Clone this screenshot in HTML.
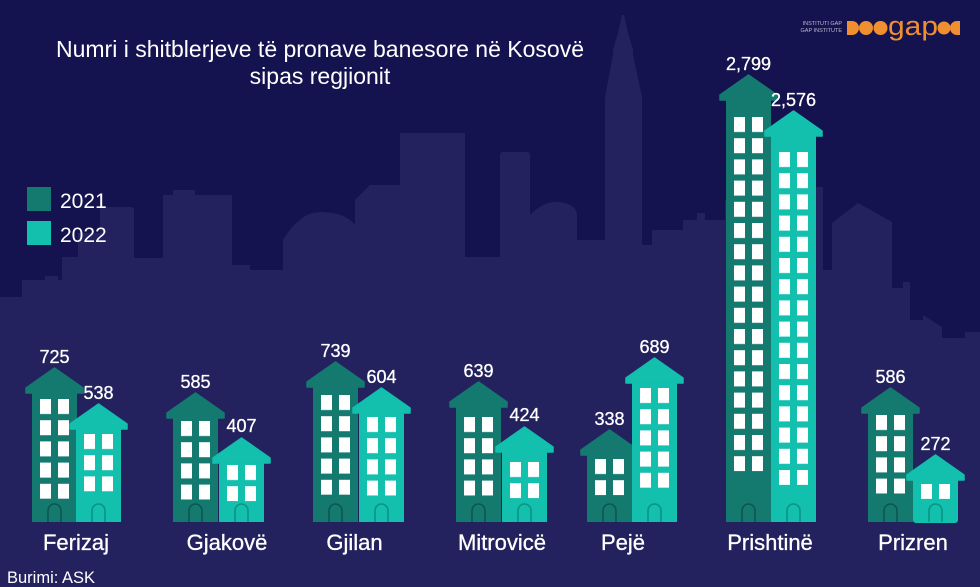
<!DOCTYPE html>
<html>
<head>
<meta charset="utf-8">
<style>
  html,body{margin:0;padding:0;background:#15134f;}
  svg{display:block;}
  text{font-family:"Liberation Sans","DejaVu Sans",sans-serif;fill:#fff;}
  .val{font-size:18px;text-anchor:middle;stroke:#fff;stroke-width:0.3;}
  .lab{font-size:22px;text-anchor:middle;stroke:#fff;stroke-width:0.3;}
  .b1{fill:#147a70;}
  .b2{fill:#13bfad;}
  .d1{fill:none;stroke:#0c564f;stroke-width:1.6;}
  .d2{fill:none;stroke:#0b9384;stroke-width:1.6;}
</style>
</head>
<body>
<svg width="980" height="587" viewBox="0 0 980 587" xmlns="http://www.w3.org/2000/svg">
  <defs>
    <pattern id="win" width="18" height="21.2" patternUnits="userSpaceOnUse">
      <rect x="0" y="0" width="11" height="15" fill="#ffffff"/>
    </pattern>
  </defs>
  <rect width="980" height="587" fill="#15134f"/>

  <!-- skyline -->
  <path fill="#23225e" d="M0,587 V297 H22 V280 H45 V276 H58 V280 H62 V257 H78 V233 H100 V210 Q100,207 103,207 H131 Q134,207 134,210 V258 H163 V195 H173 V190 H195 V195 H232 V265 H250 V270 H283 V240 Q300,212 320,212 Q345,212 355,225 V200 L370,185 H400 V133 H465 V257 H500 V155 Q500,152 503,152 H527 Q530,152 530,155 V215 Q545,200 560,202 Q577,205 577,215 V240 H605 V97 L613,55 V50 L618,33 L622,15 H624 L628,33 L633,50 V55 L642,97 V245 H652 V230 H683 V220 H697 V213 H705 V220 H725 V200 H816 V187 H823 V270 H832 V223 L858,203 L892,222 V288 H903 V282 H910 V320 H923 V315 L942,327 V338 H965 V332 H980 V587 Z"/>

  <!-- title -->
  <text x="320" y="57" style="font-size:23px" text-anchor="middle">Numri i shitblerjeve të pronave banesore në Kosovë</text>
  <text x="320" y="84" style="font-size:23px" text-anchor="middle">sipas regjionit</text>

  <!-- logo -->
  <text x="842" y="25" style="font-size:5.5px;fill:#b9b9cc" text-anchor="end">INSTITUTI GAP</text>
  <text x="842" y="32" style="font-size:5.5px;fill:#b9b9cc" text-anchor="end">GAP INSTITUTE</text>
  <g fill="#ef8f2f">
    <path d="M847,21 H852 A7,7 0 0 1 852,35 H847 Z"/>
    <circle cx="866" cy="28" r="7"/>
    <circle cx="880.5" cy="28" r="7"/>
    <circle cx="944" cy="28" r="6.5"/>
    <path d="M960,21 H957 A7,7 0 0 0 957,35 H960 Z"/>
  </g>
  <text x="888" y="35" textLength="50" lengthAdjust="spacingAndGlyphs" style="font-size:27px;fill:#ef8f2f">gap</text>

  <!-- legend -->
  <rect x="27" y="187" width="24" height="24" class="b1"/>
  <rect x="27" y="221" width="24" height="24" class="b2"/>
  <text x="60" y="208" style="font-size:21px">2021</text>
  <text x="60" y="242" style="font-size:21px">2022</text>

  <!-- Ferizaj -->
  <g>
    <rect x="32" y="393" width="45" height="129" class="b1"/>
    <polygon points="26,388 54.5,368 83,388 83,393 26,393" class="b1" stroke="#147a70" stroke-width="1.5" stroke-linejoin="round"/>
    <rect x="0" y="0" width="29" height="99.8" fill="url(#win)" transform="translate(40,399)"/>
    <path d="M48,522 V510.5 a6.5,6.5 0 0 1 13,0 V522" class="d1"/>
    <text x="54.5" y="363" class="val">725</text>
  </g>
  <g>
    <rect x="76" y="429" width="45" height="93" class="b2"/>
    <polygon points="70,424 98.5,404 127,424 127,429 70,429" class="b2" stroke="#13bfad" stroke-width="1.5" stroke-linejoin="round"/>
    <rect x="0" y="0" width="29" height="57.4" fill="url(#win)" transform="translate(84,434)"/>
    <path d="M92,522 V510.5 a6.5,6.5 0 0 1 13,0 V522" class="d2"/>
    <text x="98.5" y="399" class="val">538</text>
  </g>

  <!-- Gjakovë -->
  <g>
    <rect x="173" y="418" width="45" height="104" class="b1"/>
    <polygon points="167,413 195.5,393 224,413 224,418 167,418" class="b1" stroke="#147a70" stroke-width="1.5" stroke-linejoin="round"/>
    <rect x="0" y="0" width="29" height="78.6" fill="url(#win)" transform="translate(181,421)"/>
    <path d="M189,522 V510.5 a6.5,6.5 0 0 1 13,0 V522" class="d1"/>
    <text x="195.5" y="388" class="val">585</text>
  </g>
  <g>
    <rect x="219" y="463" width="45" height="59" class="b2"/>
    <polygon points="213,458 241.5,438 270,458 270,463 213,463" class="b2" stroke="#13bfad" stroke-width="1.5" stroke-linejoin="round"/>
    <rect x="0" y="0" width="29" height="36.2" fill="url(#win)" transform="translate(227,465)"/>
    <path d="M235,522 V510.5 a6.5,6.5 0 0 1 13,0 V522" class="d2"/>
    <text x="241.5" y="432" class="val">407</text>
  </g>

  <!-- Gjilan -->
  <g>
    <rect x="313" y="387" width="45" height="135" class="b1"/>
    <polygon points="307,382 335.5,362 364,382 364,387 307,387" class="b1" stroke="#147a70" stroke-width="1.5" stroke-linejoin="round"/>
    <rect x="0" y="0" width="29" height="99.8" fill="url(#win)" transform="translate(321,395)"/>
    <path d="M329,522 V510.5 a6.5,6.5 0 0 1 13,0 V522" class="d1"/>
    <text x="335.5" y="357" class="val">739</text>
  </g>
  <g>
    <rect x="359" y="413" width="45" height="109" class="b2"/>
    <polygon points="353,408 381.5,388 410,408 410,413 353,413" class="b2" stroke="#13bfad" stroke-width="1.5" stroke-linejoin="round"/>
    <rect x="0" y="0" width="29" height="78.6" fill="url(#win)" transform="translate(367,417)"/>
    <path d="M375,522 V510.5 a6.5,6.5 0 0 1 13,0 V522" class="d2"/>
    <text x="381.5" y="383" class="val">604</text>
  </g>

  <!-- Mitrovicë -->
  <g>
    <rect x="456" y="407" width="45" height="115" class="b1"/>
    <polygon points="450,402 478.5,382 507,402 507,407 450,407" class="b1" stroke="#147a70" stroke-width="1.5" stroke-linejoin="round"/>
    <rect x="0" y="0" width="29" height="78.6" fill="url(#win)" transform="translate(464,417)"/>
    <path d="M472,522 V510.5 a6.5,6.5 0 0 1 13,0 V522" class="d1"/>
    <text x="478.5" y="377" class="val">639</text>
  </g>
  <g>
    <rect x="502" y="452" width="45" height="70" class="b2"/>
    <polygon points="496,447 524.5,427 553,447 553,452 496,452" class="b2" stroke="#13bfad" stroke-width="1.5" stroke-linejoin="round"/>
    <rect x="0" y="0" width="29" height="36.2" fill="url(#win)" transform="translate(510,462)"/>
    <path d="M518,522 V510.5 a6.5,6.5 0 0 1 13,0 V522" class="d2"/>
    <text x="524.5" y="421" class="val">424</text>
  </g>

  <!-- Pejë -->
  <g>
    <rect x="587" y="455" width="45" height="67" class="b1"/>
    <polygon points="581,450 609.5,430 638,450 638,455 581,455" class="b1" stroke="#147a70" stroke-width="1.5" stroke-linejoin="round"/>
    <rect x="0" y="0" width="29" height="36.2" fill="url(#win)" transform="translate(595,459)"/>
    <path d="M603,522 V510.5 a6.5,6.5 0 0 1 13,0 V522" class="d1"/>
    <text x="609.5" y="425" class="val">338</text>
  </g>
  <g>
    <rect x="632" y="383" width="45" height="139" class="b2"/>
    <polygon points="626,378 654.5,358 683,378 683,383 626,383" class="b2" stroke="#13bfad" stroke-width="1.5" stroke-linejoin="round"/>
    <rect x="0" y="0" width="29" height="99.8" fill="url(#win)" transform="translate(640,388)"/>
    <path d="M648,522 V510.5 a6.5,6.5 0 0 1 13,0 V522" class="d2"/>
    <text x="654.5" y="353" class="val">689</text>
  </g>

  <!-- Prishtinë -->
  <g>
    <rect x="726" y="100" width="45" height="422" class="b1"/>
    <polygon points="720,95 748.5,75 777,95 777,100 720,100" class="b1" stroke="#147a70" stroke-width="1.5" stroke-linejoin="round"/>
    <rect x="0" y="0" width="29" height="354.2" fill="url(#win)" transform="translate(734,117)"/>
    <path d="M742,522 V510.5 a6.5,6.5 0 0 1 13,0 V522" class="d1"/>
    <text x="748.5" y="70" class="val">2,799</text>
  </g>
  <g>
    <rect x="771" y="136" width="45" height="386" class="b2"/>
    <polygon points="765,131 793.5,111 822,131 822,136 765,136" class="b2" stroke="#13bfad" stroke-width="1.5" stroke-linejoin="round"/>
    <rect x="0" y="0" width="29" height="333" fill="url(#win)" transform="translate(779,152)"/>
    <path d="M787,522 V510.5 a6.5,6.5 0 0 1 13,0 V522" class="d2"/>
    <text x="793.5" y="106" class="val">2,576</text>
  </g>

  <!-- Prizren -->
  <g>
    <rect x="868" y="413" width="45" height="109" class="b1"/>
    <polygon points="862,408 890.5,388 919,408 919,413 862,413" class="b1" stroke="#147a70" stroke-width="1.5" stroke-linejoin="round"/>
    <rect x="0" y="0" width="29" height="78.6" fill="url(#win)" transform="translate(876,415)"/>
    <path d="M884,522 V510.5 a6.5,6.5 0 0 1 13,0 V522" class="d1"/>
    <text x="890.5" y="383" class="val">586</text>
  </g>
  <g>
    <rect x="913" y="476" width="45" height="47" rx="3" class="b2"/>
    <polygon points="907,475 935.5,455 964,475 964,480 907,480" class="b2" stroke="#13bfad" stroke-width="1.5" stroke-linejoin="round"/>
    <rect x="0" y="0" width="29" height="15" fill="url(#win)" transform="translate(921,484)"/>
    <path d="M929,522 V510.5 a6.5,6.5 0 0 1 13,0 V522" class="d2"/>
    <text x="935.5" y="450" class="val">272</text>
  </g>

  <!-- region labels -->
  <text x="76" y="550" class="lab">Ferizaj</text>
  <text x="227" y="550" class="lab">Gjakovë</text>
  <text x="354.5" y="550" class="lab">Gjilan</text>
  <text x="502" y="550" class="lab">Mitrovicë</text>
  <text x="623" y="550" class="lab">Pejë</text>
  <text x="770" y="550" class="lab">Prishtinë</text>
  <text x="913" y="550" class="lab">Prizren</text>

  <!-- source -->
  <text x="7" y="583" style="font-size:16.5px">Burimi: ASK</text>
</svg>
</body>
</html>
